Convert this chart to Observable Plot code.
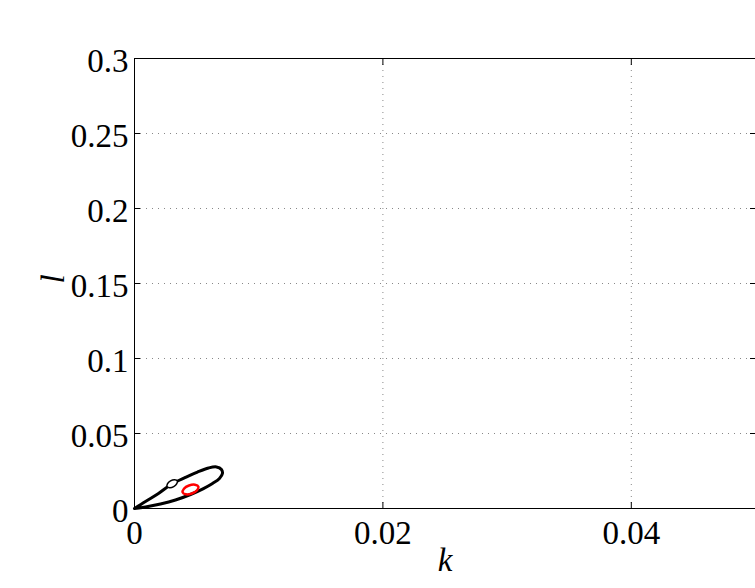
<!DOCTYPE html>
<html>
<head>
<meta charset="utf-8">
<script src="https://cdn.jsdelivr.net/npm/d3@7"></script>
<script src="https://cdn.jsdelivr.net/npm/@observablehq/plot@0.6"></script>
<style>
  html, body { margin: 0; padding: 0; background: white; overflow: hidden; }
</style>
</head>
<body>
<div id="chart"></div>
<script>
// Axis ticks
const xTicks = [0, 0.02, 0.04];
const yTicks = [0, 0.05, 0.1, 0.15, 0.2, 0.25, 0.3];
const xGrid = [0.02, 0.04];
const yGrid = [0.05, 0.1, 0.15, 0.2, 0.25];

// Black closed boundary (k, l)
const loopK = [0, 0.000885, 0.00193, 0.00303, 0.0041, 0.00507, 0.00596, 0.0066, 0.0070, 0.00708, 0.00684, 0.00628, 0.00555, 0.00451, 0.0033, 0.00209, 0.000885, 0];
const loopL = [0, 0.00467, 0.0100, 0.01647, 0.0207, 0.0243, 0.0270, 0.0277, 0.0260, 0.0233, 0.0200, 0.0167, 0.0133, 0.00933, 0.00567, 0.0030, 0.0010, 0];

// Red small closed curve
const redK = [0.005146, 0.005038, 0.004618, 0.004138, 0.003874, 0.003982, 0.004390, 0.004870];
const redL = [0.014591, 0.012191, 0.010031, 0.009467, 0.010751, 0.013151, 0.015311, 0.015863];

// White marker ellipse on the boundary
const markK = [0.003445, 0.003406, 0.003159, 0.002834, 0.002626, 0.002652, 0.002899, 0.003237];
const markL = [0.018404, 0.016532, 0.014543, 0.013763, 0.014504, 0.016363, 0.018352, 0.019132];

const fmt = d => String(d);
const serif = "Liberation Serif, Times New Roman, serif";

const chart = Plot.plot({
  width: 755,
  height: 588,
  marginLeft: 134,
  marginRight: 0,
  marginTop: 58,
  marginBottom: 80,
  style: { fontFamily: serif, background: "white", color: "black" },
  x: { domain: [0, 0.05] },
  y: { domain: [0, 0.3] },
  marks: [
    Plot.gridX(xGrid, { stroke: "#888", strokeOpacity: 1, strokeDasharray: "1,5" }),
    Plot.gridY(yGrid, { stroke: "#888", strokeOpacity: 1, strokeDasharray: "1,5" }),
    // frame lines
    Plot.ruleY([0, 0.3], { stroke: "black", strokeWidth: 1 }),
    Plot.ruleX([0], { stroke: "black", strokeWidth: 1 }),
    // inward ticks
    Plot.axisX(xTicks, { anchor: "bottom", tickSize: -6, fill: "none", label: null }),
    Plot.axisX(xTicks, { anchor: "top", tickSize: -6, fill: "none", label: null }),
    Plot.axisY(yTicks, { anchor: "left", tickSize: -6, fill: "none", label: null }),
    Plot.axisY(yTicks, { anchor: "right", tickSize: -6, fill: "none", label: null }),
    // tick labels
    Plot.axisX(xTicks, { anchor: "bottom", tickSize: 0, tickPadding: 12, tickFormat: fmt, fontSize: 33, fill: "black", label: null }),
    Plot.axisY(yTicks, { anchor: "left", tickSize: 0, tickPadding: 6, dy: 3, tickFormat: fmt, fontSize: 33, fill: "black", label: null }),
    // axis titles
    Plot.text(["k"], { frameAnchor: "bottom", dy: 52, text: d => d, fontSize: 33, fontStyle: "italic", fill: "black", lineAnchor: "middle" }),
    Plot.text(["l"], { frameAnchor: "left", dx: -81, rotate: -90, text: d => d, fontSize: 33, fontStyle: "italic", fill: "black" }),
    // curves
    Plot.line(loopK, { x: loopK, y: loopL, stroke: "black", strokeWidth: 3, curve: "catmull-rom" }),
    Plot.line(redK, { x: redK, y: redL, stroke: "red", strokeWidth: 2.5, curve: "catmull-rom-closed" }),
    Plot.line(markK, { x: markK, y: markL, stroke: "black", fill: "white", strokeWidth: 1.5, curve: "catmull-rom-closed" })
  ]
});
document.getElementById("chart").appendChild(chart);
</script>
</body>
</html>
